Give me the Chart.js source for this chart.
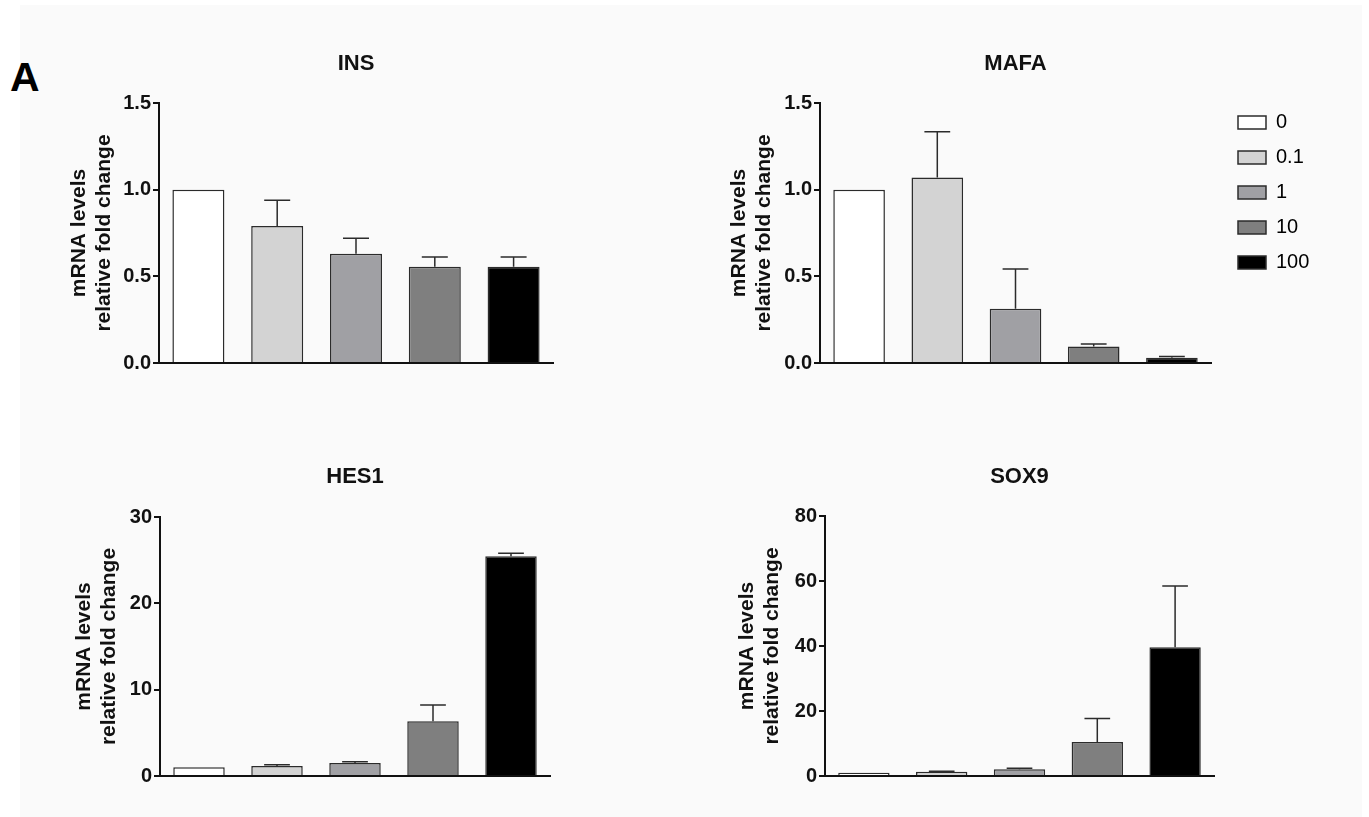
<!DOCTYPE html>
<html>
<head>
<meta charset="utf-8">
<script src="https://cdn.jsdelivr.net/npm/chart.js@4"></script>
<style>
  html, body { margin: 0; padding: 0; background: #fff; }
  #page { position: relative; width: 1369px; height: 817px; overflow: hidden; }
  #bg { position: absolute; left: 20px; top: 5px; width: 1342px; height: 812px; background: #fafafa; }
  #label { position: absolute; left: 10px; top: 57px; font: bold 41px/40px "Liberation Sans", Arial, sans-serif; color: #000; }
  canvas { position: absolute; }
</style>
</head>
<body>
<div id="page">
  <div id="bg"></div>
  <div id="label">A</div>
  <canvas id="ins"></canvas>
  <canvas id="mafa"></canvas>
  <canvas id="hes1"></canvas>
  <canvas id="sox9"></canvas>
</div>
<script>
// doses (legend) and bar fills
const doses = ['0', '0.1', '1', '10', '100'];
const barColors = ['#ffffff', '#d3d3d3', '#a0a0a4', '#7f7f7f', '#000000'];

// mean fold change and upper error (SEM) per dose
const insMean  = [1.00, 0.79, 0.63, 0.556, 0.556];
const insErr   = [0, 0.149, 0.09, 0.055, 0.055];
const mafaMean = [1.00, 1.07, 0.313, 0.095, 0.031];
const mafaErr  = [0, 0.264, 0.229, 0.015, 0.006];
const hes1Mean = [1.0, 1.16, 1.5, 6.33, 25.45];
const hes1Err  = [0, 0.14, 0.15, 1.9, 0.35];
const sox9Mean = [1.0, 1.3, 2.1, 10.5, 39.6];
const sox9Err  = [0, 0.2, 0.3, 7.2, 18.9];

// y tick values
const insTicks  = [0, 0.5, 1.0, 1.5];
const mafaTicks = [0, 0.5, 1.0, 1.5];
const hes1Ticks = [0, 10, 20, 30];
const sox9Ticks = [0, 20, 40, 60, 80];

const yTitle = ['mRNA levels', 'relative fold change'];

Chart.defaults.font.family = '"Liberation Sans", Arial, sans-serif';
Chart.defaults.color = '#111';

// draws the upward error bar with a cap on each bar
const errorBars = {
  id: 'errorBars',
  afterDatasetsDraw(chart, args, opts) {
    const errs = opts.errors;
    if (!errs) return;
    const meta = chart.getDatasetMeta(0);
    const y = chart.scales.y;
    const vals = chart.data.datasets[0].data;
    const ctx = chart.ctx;
    ctx.save();
    ctx.strokeStyle = '#2b2b2b';
    ctx.lineWidth = 1.5;
    meta.data.forEach((bar, i) => {
      if (!errs[i]) return;
      const top = y.getPixelForValue(vals[i] + errs[i]);
      const half = bar.width / 4;
      ctx.beginPath();
      ctx.moveTo(bar.x, bar.y);
      ctx.lineTo(bar.x, top);
      ctx.moveTo(bar.x - half, top);
      ctx.lineTo(bar.x + half, top);
      ctx.stroke();
    });
    ctx.restore();
  }
};

// small shift of the legend box after layout
const legendNudge = {
  id: 'legendNudge',
  afterLayout(chart, args, opts) {
    const lg = chart.legend;
    if (!lg || !lg.options.display) return;
    const dx = opts.dx || 0, dy = opts.dy || 0;
    lg.left += dx; lg.right += dx;
    lg.top += dy; lg.bottom += dy;
  }
};

function panel(cfg) {
  const c = document.getElementById(cfg.id);
  const b = cfg.box;   // canvas rect on page: left, top, width, height
  const a = cfg.area;  // chart area on page: left, top, right, bottom
  c.width = b[2];
  c.height = b[3];
  c.style.left = b[0] + 'px';
  c.style.top = b[1] + 'px';

  const tlh = 22 * 1.2;
  const ylh = 21 * 1.2;
  const legendW = cfg.legend ? 95 : 0;

  new Chart(c, {
    type: 'bar',
    data: {
      labels: doses,
      datasets: [{
        data: cfg.mean,
        backgroundColor: barColors,
        borderColor: '#2b2b2b',
        borderWidth: 1.5,
        barPercentage: 0.66,
        categoryPercentage: 1
      }]
    },
    options: {
      responsive: false,
      animation: false,
      layout: {
        padding: {
          left: 0,
          top: 0,
          right: b[0] + b[2] - a[2] - legendW,
          bottom: b[1] + b[3] - a[3] - 14
        }
      },
      scales: {
        x: {
          grid: { display: false },
          ticks: { display: false },
          border: { display: true, color: '#111', width: 2 },
          afterFit: s => { s.height = 14; }
        },
        y: {
          min: cfg.ticks[0],
          max: cfg.ticks[cfg.ticks.length - 1],
          afterBuildTicks: s => { s.ticks = cfg.ticks.map(v => ({ value: v })); },
          ticks: {
            font: { size: 20, weight: 'bold' },
            color: '#111',
            padding: 2,
            callback: v => Number(v).toFixed(cfg.decimals)
          },
          grid: { drawOnChartArea: false, drawTicks: true, tickLength: 6, color: '#111', lineWidth: 2 },
          border: { display: true, color: '#111', width: 2 },
          title: {
            display: true,
            text: yTitle,
            color: '#111',
            font: { size: 21, weight: 'bold', lineHeight: 1.2 },
            padding: { top: cfg.yTitleX - b[0] - ylh / 2, bottom: 0 }
          },
          afterFit: s => { s.width = a[0] - b[0]; }
        }
      },
      plugins: {
        title: {
          display: true,
          text: cfg.title,
          fullSize: false,
          color: '#111',
          font: { size: 22, weight: 'bold', lineHeight: 1.2 },
          padding: { top: cfg.titleY - b[1] - tlh / 2, bottom: a[1] - cfg.titleY - tlh / 2 }
        },
        legend: {
          display: !!cfg.legend,
          position: 'right',
          align: 'start',
          fullSize: false,
          maxWidth: legendW,
          onClick: null,
          labels: {
            boxWidth: 28,
            boxHeight: 13,
            padding: 15,
            color: '#333',
            font: { size: 20 },
            generateLabels: () => doses.map((d, i) => ({
              text: d,
              fillStyle: barColors[i],
              strokeStyle: '#2b2b2b',
              lineWidth: 1.5,
              hidden: false,
              index: i
            }))
          }
        },
        legendNudge: cfg.legend || {},
        tooltip: { enabled: false },
        errorBars: { errors: cfg.err }
      }
    },
    plugins: [errorBars, legendNudge]
  });
}

panel({ id: 'ins',  box: [0, 0, 600, 408],   area: [159, 103, 553, 363], title: 'INS',  titleY: 64,  yTitleX: 79,
        mean: insMean,  err: insErr,  ticks: insTicks,  decimals: 1 });
panel({ id: 'mafa', box: [600, 0, 769, 408], area: [820, 103, 1211, 363], title: 'MAFA', titleY: 64, yTitleX: 739,
        mean: mafaMean, err: mafaErr, ticks: mafaTicks, decimals: 1, legend: { dx: 12, dy: -5.5 } });
panel({ id: 'hes1', box: [0, 408, 600, 409], area: [160, 517, 550, 776], title: 'HES1', titleY: 477, yTitleX: 84,
        mean: hes1Mean, err: hes1Err, ticks: hes1Ticks, decimals: 0 });
panel({ id: 'sox9', box: [600, 408, 769, 409], area: [825, 516, 1214, 776], title: 'SOX9', titleY: 477, yTitleX: 747,
        mean: sox9Mean, err: sox9Err, ticks: sox9Ticks, decimals: 0 });
</script>
</body>
</html>
